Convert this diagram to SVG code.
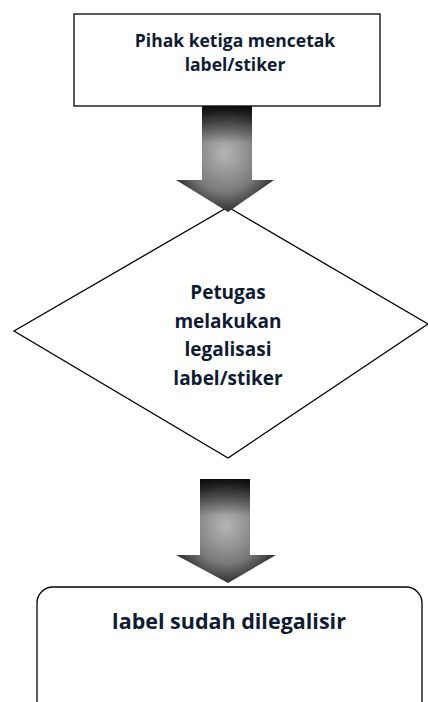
<svg xmlns="http://www.w3.org/2000/svg" width="428" height="702" viewBox="0 0 428 702">
<style>
.box{fill:#fff;stroke:#000;stroke-width:1.3}
.t{font-family:"Open Sans","Liberation Sans",sans-serif;font-weight:bold;fill:#0f1a33;text-anchor:middle}
.arrow{fill:url(#g);stroke:none}
</style>
<defs>
<radialGradient id="g" cx="0.5" cy="0.45" r="0.6">
<stop offset="0" stop-color="#b5b5b5"/>
<stop offset="0.6" stop-color="#7a7a7a"/>
<stop offset="1" stop-color="#1e1e1e"/>
</radialGradient>
<linearGradient id="top" x1="0" y1="0" x2="0" y2="1">
<stop offset="0" stop-color="#000" stop-opacity="0.85"/>
<stop offset="0.35" stop-color="#000" stop-opacity="0"/>
</linearGradient>
</defs>
<g id="node-pihak">
<rect class="box" x="74" y="14" width="306" height="92"/>
<text class="t" font-size="17.5" x="235" y="47">Pihak ketiga mencetak</text>
<text class="t" font-size="17.5" x="235" y="71">label/stiker</text>
</g>
<g id="node-petugas">
<polygon class="box" points="228,207 428,324 228,458 14,331"/>
<text class="t" font-size="19" x="228" y="299">Petugas</text>
<text class="t" font-size="19" x="228" y="328">melakukan</text>
<text class="t" font-size="19" x="228" y="356">legalisasi</text>
<text class="t" font-size="19" x="228" y="385">label/stiker</text>
</g>
<g id="node-label">
<rect class="box" x="37" y="587" width="385" height="130" rx="16"/>
<text class="t" font-size="21.5" x="229" y="629">label sudah dilegalisir</text>
</g>
<g id="connectors">
<path class="arrow" d="M202,106 H252 V180 H274 L228,212 L176,180 H202 Z"/>
<path d="M202,106 H252 V180 H274 L228,212 L176,180 H202 Z" fill="url(#top)"/>
<path class="arrow" d="M200,479 H250 V555 H276 L228,583 L176,555 H200 Z"/>
<path d="M200,479 H250 V555 H276 L228,583 L176,555 H200 Z" fill="url(#top)"/>
</g>
</svg>
